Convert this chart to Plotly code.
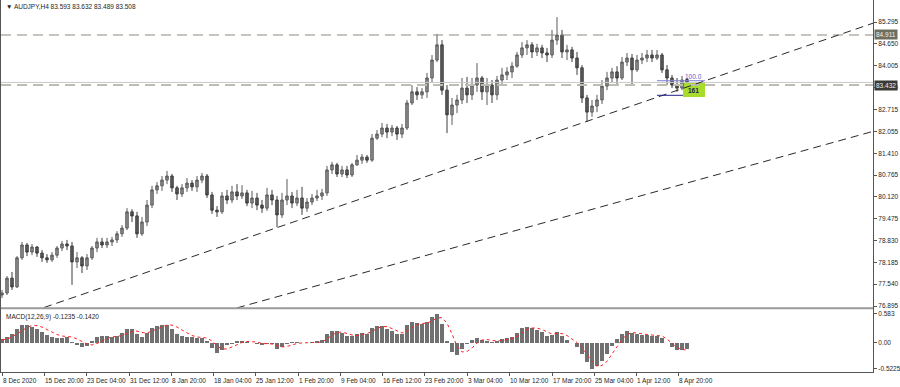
import plotly.graph_objects as go
import numpy as np

# ---------------- data ----------------
title_text = "\u25bc AUDJPY,H4 83.593 83.632 83.489 83.508"
macd_text = "MACD(12,26,9) -0.1235 -0.1420"

open_ = [
    77.22, 77.28, 77.72, 77.46, 78.32, 78.70, 78.49, 78.64, 78.46, 78.32,
    78.26, 78.40, 78.61, 78.73, 78.67, 78.20, 78.32, 78.08, 78.32, 78.61,
    78.79, 78.70, 78.79, 78.85, 79.03, 79.20, 79.68, 79.56, 79.03, 79.38,
    79.88, 80.33, 80.45, 80.62, 80.74, 80.39, 80.21, 80.39, 80.53, 80.42,
    80.62, 80.74, 80.18, 79.73, 79.68, 80.15, 80.03, 80.27, 80.15, 80.24,
    79.94, 80.09, 79.88, 79.79, 80.18, 80.03, 79.59, 80.03, 80.15, 79.94,
    80.09, 79.79, 79.97, 80.09, 80.15, 80.24, 80.92, 81.07, 80.80, 80.92,
    80.77, 81.07, 81.21, 81.30, 81.21, 81.86, 81.98, 82.16, 82.04, 82.16,
    81.98, 82.16, 82.90, 83.23, 83.14, 83.23, 83.64, 84.17, 84.62, 83.28,
    82.55, 82.84, 82.99, 83.34, 83.14, 83.43, 83.64, 83.23, 83.43, 83.14,
    83.58, 83.73, 83.82, 83.99, 84.32, 84.53, 84.62, 84.41, 84.53, 84.38,
    84.32, 84.76, 84.91, 84.41, 84.47, 84.23, 83.94, 83.05, 82.63, 82.81,
    82.99, 83.40, 83.64, 83.82, 83.64, 84.11, 84.23, 83.88, 84.17, 84.23,
    84.32, 84.23, 84.32, 83.88, 83.64, 83.43, 83.34, 83.593,
]
high = [
    77.37, 77.78, 77.90, 78.37, 78.79, 78.76, 78.73, 78.67, 78.55, 78.43,
    78.49, 78.67, 78.82, 78.85, 78.79, 78.49, 78.37, 78.43, 78.67, 78.91,
    78.91, 78.91, 78.94, 79.11, 79.29, 79.79, 79.76, 79.68, 79.53, 80.03,
    80.45, 80.56, 80.74, 80.89, 80.80, 80.45, 80.50, 80.68, 80.62, 80.74,
    80.83, 80.80, 80.27, 79.85, 80.27, 80.33, 80.45, 80.50, 80.47, 80.33,
    80.30, 80.24, 80.03, 80.39, 80.33, 80.15, 80.24, 80.65, 80.27, 80.33,
    80.42, 80.09, 80.21, 80.33, 80.36, 81.04, 81.16, 81.13, 81.04, 81.04,
    81.13, 81.36, 81.39, 81.36, 81.98, 82.10, 82.31, 82.28, 82.25, 82.22,
    82.28, 82.99, 83.43, 83.37, 83.34, 83.79, 84.32, 84.94, 84.76, 83.43,
    83.05, 83.14, 83.64, 83.67, 83.64, 84.08, 83.70, 83.64, 83.58, 83.70,
    83.94, 83.96, 84.11, 84.41, 84.70, 84.76, 84.70, 84.65, 84.62, 84.53,
    85.06, 85.44, 85.06, 84.62, 84.56, 84.41, 84.02, 83.14, 82.99, 83.14,
    83.58, 83.82, 83.94, 83.99, 84.26, 84.38, 84.35, 84.32, 84.38, 84.47,
    84.47, 84.47, 84.38, 84.02, 83.73, 83.64, 83.70, 83.632,
]
low = [
    77.13, 77.22, 77.37, 77.43, 78.26, 78.37, 78.40, 78.35, 78.20, 78.17,
    78.20, 78.32, 78.52, 78.55, 77.52, 78.02, 77.87, 77.96, 78.26, 78.49,
    78.61, 78.61, 78.67, 78.76, 78.94, 79.14, 79.38, 78.91, 78.97, 79.26,
    79.79, 80.21, 80.30, 80.50, 80.27, 80.03, 80.12, 80.27, 80.30, 80.27,
    80.53, 80.09, 79.62, 79.53, 79.62, 79.91, 79.94, 80.03, 80.06, 79.85,
    79.79, 79.73, 79.65, 79.71, 79.88, 79.23, 79.50, 79.88, 79.79, 79.85,
    79.59, 79.68, 79.88, 80.00, 80.03, 80.15, 80.80, 80.71, 80.71, 80.68,
    80.71, 81.04, 81.10, 81.13, 81.16, 81.81, 81.89, 81.86, 81.92, 81.81,
    81.86, 82.10, 82.84, 82.99, 83.02, 83.05, 83.52, 84.11, 83.14, 82.01,
    82.25, 82.60, 82.87, 82.90, 82.99, 83.23, 82.99, 82.84, 82.90, 82.99,
    83.46, 83.58, 83.64, 83.94, 84.23, 84.32, 84.23, 84.29, 84.23, 84.11,
    84.23, 84.62, 84.23, 84.17, 84.11, 83.73, 82.90, 82.34, 82.49, 82.63,
    82.87, 83.28, 83.49, 83.43, 83.58, 83.99, 83.43, 83.82, 84.05, 84.11,
    84.11, 84.17, 83.79, 83.43, 83.34, 83.23, 83.28, 83.489,
]
close = [
    77.28, 77.72, 77.46, 78.32, 78.70, 78.49, 78.64, 78.46, 78.32, 78.26,
    78.40, 78.61, 78.73, 78.67, 78.20, 78.32, 78.08, 78.32, 78.61, 78.79,
    78.70, 78.79, 78.85, 79.03, 79.20, 79.68, 79.56, 79.03, 79.38, 79.88,
    80.33, 80.45, 80.62, 80.74, 80.39, 80.21, 80.39, 80.53, 80.42, 80.62,
    80.74, 80.18, 79.73, 79.68, 80.15, 80.03, 80.27, 80.15, 80.24, 79.94,
    80.09, 79.88, 79.79, 80.18, 80.03, 79.59, 80.03, 80.15, 79.94, 80.09,
    79.79, 79.97, 80.09, 80.15, 80.24, 80.92, 81.07, 80.80, 80.92, 80.77,
    81.07, 81.21, 81.30, 81.21, 81.86, 81.98, 82.16, 82.04, 82.16, 81.98,
    82.16, 82.90, 83.23, 83.14, 83.23, 83.64, 84.17, 84.62, 83.28, 82.55,
    82.84, 82.99, 83.34, 83.14, 83.43, 83.64, 83.23, 83.43, 83.14, 83.58,
    83.73, 83.82, 83.99, 84.32, 84.53, 84.62, 84.41, 84.53, 84.38, 84.32,
    84.76, 84.91, 84.41, 84.47, 84.23, 83.94, 83.05, 82.63, 82.81, 82.99,
    83.40, 83.64, 83.82, 83.64, 84.11, 84.23, 83.88, 84.17, 84.23, 84.32,
    84.23, 84.32, 83.88, 83.64, 83.43, 83.34, 83.58, 83.508,
]
macd_hist = [
    0.08, 0.12, 0.18, 0.28, 0.36, 0.37, 0.33, 0.28, 0.22, 0.16,
    0.12, 0.10, 0.11, 0.12, 0.02, -0.04, -0.09, -0.06, 0.04, 0.12,
    0.15, 0.14, 0.13, 0.15, 0.20, 0.28, 0.28, 0.18, 0.12, 0.20,
    0.30, 0.35, 0.37, 0.36, 0.28, 0.18, 0.14, 0.13, 0.12, 0.10,
    0.11, 0.04, -0.10, -0.20, -0.14, -0.05, -0.02, 0.04, 0.05, 0.02,
    0.00, -0.02, -0.05, -0.01, -0.02, -0.12, -0.08, -0.02, 0.01, 0.02,
    0.00, 0.00, 0.01, 0.03, 0.06, 0.18, 0.25, 0.24, 0.20, 0.14,
    0.14, 0.18, 0.20, 0.19, 0.30, 0.35, 0.34, 0.28, 0.24, 0.18,
    0.18, 0.36, 0.42, 0.40, 0.38, 0.42, 0.52, 0.58, 0.38, 0.05,
    -0.18, -0.24, -0.12, -0.02, 0.06, 0.10, 0.06, 0.04, 0.02, 0.04,
    0.08, 0.10, 0.12, 0.20, 0.30, 0.32, 0.30, 0.27, 0.22, 0.14,
    0.16, 0.22, 0.14, 0.06, 0.00, -0.08, -0.22, -0.38, -0.52, -0.46,
    -0.36, -0.22, -0.06, 0.08, 0.18, 0.24, 0.20, 0.18, 0.17, 0.16,
    0.15, 0.15, 0.10, 0.00, -0.08, -0.14, -0.14, -0.1235,
]
macd_signal = [
    0.06, 0.08, 0.12, 0.18, 0.25, 0.31, 0.35, 0.35, 0.32, 0.27,
    0.22, 0.17, 0.14, 0.13, 0.12, 0.08, 0.03, -0.02, -0.04, -0.01,
    0.04, 0.09, 0.12, 0.13, 0.15, 0.19, 0.23, 0.24, 0.21, 0.20,
    0.24, 0.29, 0.33, 0.36, 0.36, 0.32, 0.26, 0.20, 0.15, 0.12,
    0.11, 0.10, 0.04, -0.06, -0.12, -0.12, -0.08, -0.03, 0.01, 0.03,
    0.03, 0.02, -0.01, -0.02, -0.02, -0.05, -0.08, -0.07, -0.04, -0.01,
    0.00, 0.01, 0.01, 0.01, 0.02, 0.08, 0.16, 0.21, 0.22, 0.19,
    0.16, 0.15, 0.17, 0.19, 0.23, 0.29, 0.33, 0.33, 0.29, 0.24,
    0.20, 0.24, 0.31, 0.37, 0.39, 0.40, 0.44, 0.50, 0.51, 0.40,
    0.18, -0.06, -0.18, -0.17, -0.10, 0.00, 0.06, 0.07, 0.05, 0.04,
    0.05, 0.07, 0.09, 0.13, 0.20, 0.27, 0.30, 0.30, 0.27, 0.22,
    0.18, 0.19, 0.19, 0.15, 0.08, 0.01, -0.09, -0.22, -0.37, -0.47,
    -0.45, -0.37, -0.22, -0.06, 0.07, 0.17, 0.21, 0.20, 0.18, 0.17,
    0.16, 0.15, 0.14, 0.08, -0.01, -0.09, -0.13, -0.142,
]

# date labels (in bar-index units of the series above)
date_tick_pos = [0, 8.4, 16.8, 25.4, 33.8, 42.2, 50.6, 59.2, 67.6, 76,
                 84.4, 93, 101.4, 110, 118.4, 126.8, 135.2]
date_tick_text = ["8 Dec 2020", "15 Dec 20:00", "23 Dec 04:00", "31 Dec 12:00",
                  "8 Jan 20:00", "18 Jan 04:00", "25 Jan 12:00", "1 Feb 20:00",
                  "9 Feb 04:00", "16 Feb 12:00", "23 Feb 20:00", "3 Mar 04:00",
                  "10 Mar 12:00", "17 Mar 20:00", "25 Mar 04:00", "1 Apr 12:00",
                  "8 Apr 20:00"]

price_ticks = [85.295, 84.650, 84.005, 83.360, 82.715, 82.055, 81.410,
               80.765, 80.120, 79.475, 78.830, 78.185, 77.540, 76.895]
price_tick_text = ["85.295", "84.650", "84.005", "83.360", "82.715", "82.055",
                   "81.410", "80.765", "80.120", "79.475", "78.830", "78.185",
                   "77.540", "76.895"]
macd_ticks = [0.583, 0.0, -0.5225]
macd_tick_text = ["0.583", "0.00", "-0.5225"]

resistance_level = 84.911
support_level = 83.432
bid_price = 83.508

# trend lines: (bar index, price) anchor pairs
trend1 = [(8.4, 76.85), (174.2, 85.26)]
trend2 = [(47.0, 76.84), (174.2, 82.06)]

# fibonacci expansion levels drawn at the right end
fib_start, fib_mid, fib_end = 131.0, 136.2, 140.6
fib_100 = 83.559
fib_161 = 83.127
fib_box = (83.077, 83.491)

x_range = [-0.2, 174.2]
y_range = [76.836, 85.946]
macd_range = [-0.583, 0.683]

# ---------------- figure ----------------
idx = np.arange(len(close))
FONT = "Liberation Sans, Arial, sans-serif"
TXT = "#1e1e1e"

fig = go.Figure()
fig.add_trace(go.Candlestick(
    x=idx, open=open_, high=high, low=low, close=close,
    xaxis="x", yaxis="y",
    increasing=dict(line=dict(color="#5a5a5a", width=1), fillcolor="#8e8e8e"),
    decreasing=dict(line=dict(color="#3c3c3c", width=1), fillcolor="#5e5e5e"),
    whiskerwidth=0, showlegend=False, hoverinfo="skip",
))
fig.add_trace(go.Bar(
    x=idx, y=macd_hist, xaxis="x2", yaxis="y2",
    marker=dict(color="#707070", line=dict(width=0)), width=0.72,
    showlegend=False, hoverinfo="skip",
))
fig.add_trace(go.Scatter(
    x=idx, y=macd_signal, xaxis="x2", yaxis="y2", mode="lines",
    line=dict(color="#ff2020", dash="dot", width=1),
    showlegend=False, hoverinfo="skip",
))

shapes = []
# horizontal levels
shapes.append(dict(type="line", xref="x", yref="y", x0=x_range[0], x1=x_range[1],
                   y0=bid_price, y1=bid_price, line=dict(color="#c8c8c8", width=1)))
shapes.append(dict(type="line", xref="x", yref="y", x0=x_range[0], x1=x_range[1],
                   y0=resistance_level, y1=resistance_level,
                   line=dict(color="#8c8c7c", width=1, dash="10px,6px")))
shapes.append(dict(type="line", xref="x", yref="y", x0=x_range[0], x1=x_range[1],
                   y0=support_level, y1=support_level,
                   line=dict(color="#bdbdb2", width=2, dash="10px,6px")))
# trend lines
for (a, b) in (trend1, trend2):
    shapes.append(dict(type="line", xref="x", yref="y", x0=a[0], y0=a[1], x1=b[0], y1=b[1],
                       line=dict(color="#2a2a2a", width=1, dash="8px,5px")))
# fib tool
shapes.append(dict(type="rect", xref="x", yref="y", x0=fib_mid, x1=fib_end,
                   y0=fib_box[0], y1=fib_box[1], fillcolor="#a8dc2c",
                   line=dict(width=0), layer="below"))
shapes.append(dict(type="line", xref="x", yref="y", x0=fib_start, x1=fib_end,
                   y0=fib_100, y1=fib_100, line=dict(color="#8080d8", width=1)))
shapes.append(dict(type="line", xref="x", yref="y", x0=fib_start, x1=fib_mid,
                   y0=fib_161, y1=fib_161, line=dict(color="#22228a", width=1)))
# pane separator
shapes.append(dict(type="line", xref="paper", yref="paper", x0=0, x1=1,
                   y0=0.1715, y1=0.1715, line=dict(color="#9a9a9a", width=2)))

annotations = [
    dict(text=title_text, xref="paper", yref="paper", x=0, y=1, xanchor="left",
         yanchor="top", xshift=3, yshift=-1, showarrow=False,
         font=dict(family=FONT, size=6.5, color=TXT)),
    dict(text=macd_text, xref="paper", yref="paper", x=0, y=0.1694, xanchor="left",
         yanchor="top", xshift=3, yshift=-2, showarrow=False,
         font=dict(family=FONT, size=6.5, color=TXT)),
    dict(text="100.0", xref="x", yref="y", x=fib_end, y=fib_100, xanchor="right",
         yanchor="bottom", xshift=-1, yshift=-1, showarrow=False,
         font=dict(family=FONT, size=6.5, color="#5a5ac8")),
    dict(text="<b>161</b>", xref="x", yref="y", x=fib_end, y=fib_161, xanchor="right",
         yanchor="bottom", xshift=-4, yshift=-1, showarrow=False,
         font=dict(family=FONT, size=6.5, color="#1a1a5a")),
    dict(text="84.911", xref="paper", yref="y", x=1, y=resistance_level, xanchor="left",
         yanchor="middle", xshift=1, showarrow=False, bgcolor="#6e6e60",
         borderpad=1, font=dict(family=FONT, size=6.5, color="#f0f0f0")),
    dict(text="83.432", xref="paper", yref="y", x=1, y=support_level, xanchor="left",
         yanchor="middle", xshift=1, showarrow=False, bgcolor="#3a3a36",
         borderpad=1, font=dict(family=FONT, size=6.5, color="#f0f0f0")),
]
for pos, lab in zip(date_tick_pos, date_tick_text):
    annotations.append(dict(text=lab, xref="x2", yref="paper", x=pos, y=0,
                            xanchor="left", yanchor="top", yshift=-3, xshift=-1,
                            showarrow=False,
                            font=dict(family=FONT, size=6.5, color=TXT)))

axis_common = dict(showgrid=False, zeroline=False, showline=True, mirror=True,
                   linecolor="#555555", linewidth=1)

fig.update_layout(
    width=900, height=387,
    margin=dict(l=1, r=27, t=0, b=15),
    paper_bgcolor="white", plot_bgcolor="white",
    showlegend=False, bargap=0,
    xaxis=dict(domain=[0, 1], range=x_range, anchor="y", showticklabels=False,
               ticks="", rangeslider=dict(visible=False), **axis_common),
    yaxis=dict(domain=[0.172, 1], range=y_range, anchor="x", side="right",
               tickvals=price_ticks, ticktext=price_tick_text, ticks="outside",
               ticklen=3, tickcolor="#555555",
               tickfont=dict(family=FONT, size=6.5, color=TXT), **axis_common),
    xaxis2=dict(domain=[0, 1], range=x_range, matches="x", anchor="y2",
                tickvals=date_tick_pos, ticks="outside", ticklen=3,
                tickcolor="#555555", showticklabels=False, **axis_common),
    yaxis2=dict(domain=[0, 0.1694], range=macd_range, anchor="x2", side="right",
                tickvals=macd_ticks, ticktext=macd_tick_text, ticks="outside",
                ticklen=3, tickcolor="#555555",
                tickfont=dict(family=FONT, size=6.5, color=TXT), **axis_common),
    shapes=shapes,
    annotations=annotations,
)

fig.write_html("out.html")
